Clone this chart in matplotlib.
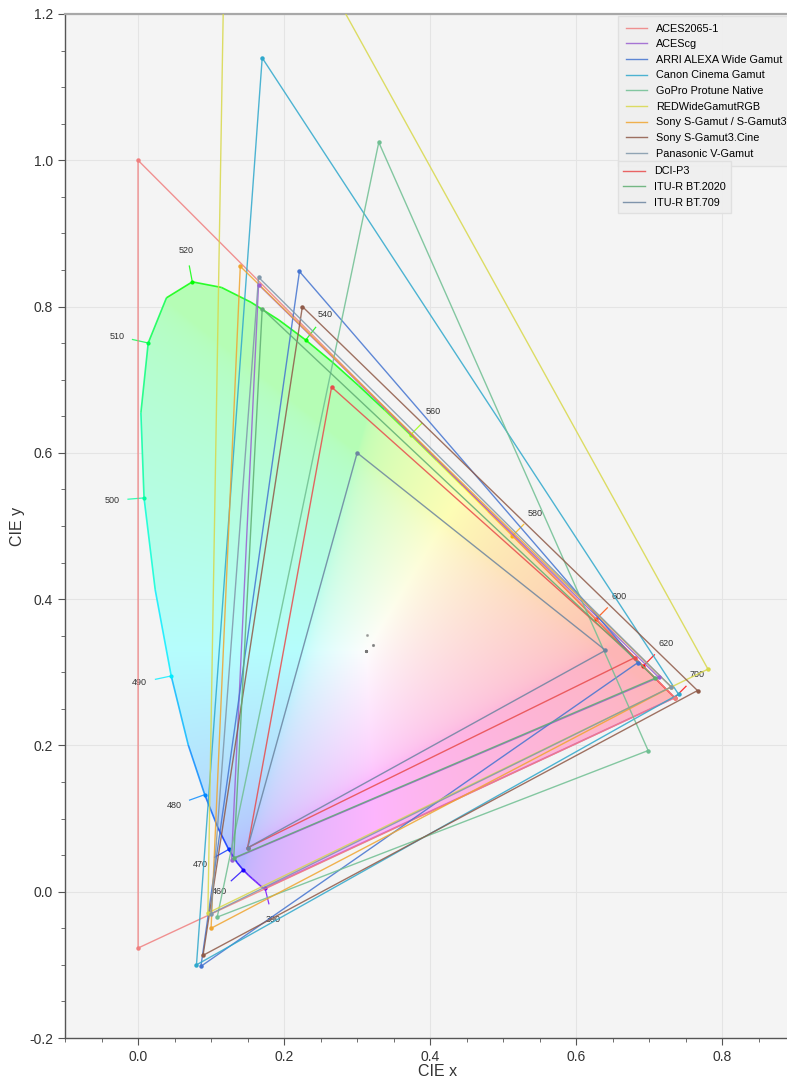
import numpy as np
import matplotlib
matplotlib.use("Agg")
import matplotlib.pyplot as plt
from matplotlib.collections import LineCollection
from matplotlib.patches import Polygon
from matplotlib.ticker import MultipleLocator, FormatStrFormatter

plt.rcParams['font.family'] = ['Liberation Sans', 'DejaVu Sans']

# CIE 1931 2 degree spectral locus, 5 nm steps
wavelengths = [380, 385, 390, 395, 400, 405, 410, 415, 420, 425, 430, 435, 440,
               445, 450, 455, 460, 465, 470, 475, 480, 485, 490, 495, 500, 505,
               510, 515, 520, 525, 530, 535, 540, 545, 550, 555, 560, 565, 570,
               575, 580, 585, 590, 595, 600, 605, 610, 615, 620, 625, 630, 635,
               640, 645, 650, 655, 660, 665, 670, 675, 680, 685, 690, 695, 700]
locus_x = [0.1741, 0.1740, 0.1738, 0.1736, 0.1733, 0.1730, 0.1726, 0.1721, 0.1714,
           0.1703, 0.1689, 0.1669, 0.1644, 0.1611, 0.1566, 0.1510, 0.1440, 0.1355,
           0.1241, 0.1096, 0.0913, 0.0687, 0.0454, 0.0235, 0.0082, 0.0039, 0.0139,
           0.0389, 0.0743, 0.1142, 0.1547, 0.1929, 0.2296, 0.2658, 0.3016, 0.3373,
           0.3731, 0.4087, 0.4441, 0.4788, 0.5125, 0.5448, 0.5752, 0.6029, 0.6270,
           0.6482, 0.6658, 0.6801, 0.6915, 0.7006, 0.7079, 0.7140, 0.7190, 0.7230,
           0.7260, 0.7283, 0.7300, 0.7311, 0.7320, 0.7327, 0.7334, 0.7340, 0.7344,
           0.7346, 0.7347]
locus_y = [0.0050, 0.0050, 0.0049, 0.0049, 0.0048, 0.0048, 0.0048, 0.0048, 0.0051,
           0.0058, 0.0069, 0.0086, 0.0109, 0.0138, 0.0177, 0.0227, 0.0297, 0.0399,
           0.0578, 0.0868, 0.1327, 0.2007, 0.2950, 0.4127, 0.5384, 0.6548, 0.7502,
           0.8120, 0.8338, 0.8262, 0.8059, 0.7816, 0.7543, 0.7243, 0.6923, 0.6589,
           0.6245, 0.5896, 0.5547, 0.5202, 0.4866, 0.4544, 0.4242, 0.3965, 0.3725,
           0.3514, 0.3340, 0.3197, 0.3083, 0.2993, 0.2920, 0.2859, 0.2809, 0.2770,
           0.2740, 0.2717, 0.2700, 0.2689, 0.2680, 0.2673, 0.2666, 0.2660, 0.2656,
           0.2654, 0.2653]
label_wavelengths = [390, 460, 470, 480, 490, 500, 510, 520, 540, 560, 580, 600, 620, 700]

# RGB colourspaces: primaries (R, G, B) and white point
space_names = ['ACES2065-1', 'ACEScg', 'ARRI ALEXA Wide Gamut', 'Canon Cinema Gamut',
               'GoPro Protune Native', 'REDWideGamutRGB', 'Sony S-Gamut / S-Gamut3',
               'Sony S-Gamut3.Cine', 'Panasonic V-Gamut', 'DCI-P3', 'ITU-R BT.2020',
               'ITU-R BT.709']
primaries_x = [[0.7347, 0.0000, 0.0001], [0.713, 0.165, 0.128], [0.684, 0.221, 0.0861],
               [0.740, 0.170, 0.080], [0.6984, 0.3296, 0.1084], [0.7803, 0.1216, 0.0956],
               [0.730, 0.140, 0.100], [0.766, 0.225, 0.089], [0.730, 0.165, 0.100],
               [0.680, 0.265, 0.150], [0.708, 0.170, 0.131], [0.640, 0.300, 0.150]]
primaries_y = [[0.2653, 1.0000, -0.0770], [0.293, 0.830, 0.044], [0.313, 0.848, -0.102],
               [0.270, 1.140, -0.100], [0.1930, 1.0246, -0.0347], [0.3043, 1.4940, -0.0291],
               [0.280, 0.855, -0.050], [0.275, 0.800, -0.087], [0.280, 0.840, -0.030],
               [0.320, 0.690, 0.060], [0.292, 0.797, 0.046], [0.330, 0.600, 0.060]]
whitepoint_x = [0.32168, 0.32168, 0.3127, 0.3127, 0.3127, 0.3127, 0.3127, 0.3127,
                0.3127, 0.314, 0.3127, 0.3127]
whitepoint_y = [0.33767, 0.33767, 0.3290, 0.3290, 0.3290, 0.3290, 0.3290, 0.3290,
                0.3290, 0.351, 0.3290, 0.3290]
space_colors = ['#f07f7f', '#9a5fd0', '#4474d0', '#2fa8cc', '#6fbf92', '#d8d84a',
                '#f0a530', '#8f5a48', '#7f97aa', '#e84c4c', '#5fae72', '#6c84a0']

BG = '#f4f4f4'


def xy_to_srgb(x, y):
    x = np.asarray(x, float)
    y = np.asarray(y, float)
    X = x / y
    Z = (1 - x - y) / y
    Y = np.ones_like(x)
    M = np.array([[3.2406, -1.5372, -0.4986],
                  [-0.9689, 1.8758, 0.0415],
                  [0.0557, -0.2040, 1.0570]])
    rgb = np.stack([X, Y, Z], axis=-1) @ M.T
    rgb = np.clip(rgb, 0, None)
    rgb = rgb / rgb.max(axis=-1, keepdims=True)
    rgb = np.where(rgb <= 0.0031308, 12.92 * rgb, 1.055 * rgb ** (1 / 2.4) - 0.055)
    return np.clip(rgb, 0, 1)


fig = plt.figure(figsize=(7.87, 10.79), dpi=100)
ax = fig.add_axes([65 / 787, 41 / 1079, 745 / 787, 1024 / 1079])
ax.set_facecolor(BG)
ax.set_xlim(-0.1, 0.92)
ax.set_ylim(-0.2, 1.2)

# filled chromaticity diagram
lx = np.array(locus_x)
ly = np.array(locus_y)
gx, gy = np.meshgrid(np.linspace(0.0, 0.75, 500), np.linspace(0.001, 0.85, 560))
img = xy_to_srgb(gx, gy)
alpha = 0.28
img = alpha * img + (1 - alpha) * 0.99
im = ax.imshow(img, origin='lower', extent=(0.0, 0.75, 0.001, 0.85),
               interpolation='bilinear', aspect='auto', zorder=1)
clip = Polygon(np.column_stack([lx, ly]), closed=True, transform=ax.transData)
im.set_clip_path(clip)

# spectral locus, coloured by wavelength
pts = np.column_stack([lx, ly])
seg_cols = xy_to_srgb(lx, ly)
segs = np.stack([pts[:-1], pts[1:]], axis=1)
lc = LineCollection(segs, colors=seg_cols[:-1], linewidths=1.2, alpha=0.8, zorder=2)
ax.add_collection(lc)
ax.plot([lx[0], lx[-1]], [ly[0], ly[-1]], color='#d050c8', lw=1.2, alpha=0.8, zorder=2)

# wavelength labels
centre = np.array([0.3333, 0.3333])
for wl in label_wavelengths:
    i = wavelengths.index(wl)
    i0, i1 = max(i - 1, 0), min(i + 1, len(wavelengths) - 1)
    t = pts[i1] - pts[i0]
    t = t / np.hypot(*t)
    n = np.array([t[1], -t[0]])
    if np.dot(n, pts[i] - centre) < 0:
        n = -n
    col = seg_cols[i]
    ax.plot([pts[i][0], pts[i][0] + n[0] * 0.022], [pts[i][1], pts[i][1] + n[1] * 0.022],
            color=col, lw=0.9, alpha=0.8, zorder=3)
    ax.plot(pts[i][0], pts[i][1], 'o', ms=2.0, color=col, zorder=3)
    ax.text(pts[i][0] + n[0] * 0.044, pts[i][1] + n[1] * 0.044, str(wl),
            fontsize=6.5, color='#333333', ha='center', va='center', zorder=3)

# colourspace triangles
handles = []
for name, px, py, wx, wy, c in zip(space_names, primaries_x, primaries_y,
                                   whitepoint_x, whitepoint_y, space_colors):
    h, = ax.plot(px + px[:1], py + py[:1], color=c, lw=1.0, alpha=0.85,
                 label=name, zorder=4)
    ax.plot(px, py, 'o', ms=2.2, color=c, zorder=5)
    ax.plot(wx, wy, 'o', ms=1.2, color='#777777', alpha=0.5, zorder=5)
    handles.append(h)

ax.grid(True, color='#e4e4e4', lw=0.8, zorder=0)
ax.set_axisbelow(True)
ax.xaxis.set_major_locator(MultipleLocator(0.2))
ax.xaxis.set_minor_locator(MultipleLocator(0.05))
ax.yaxis.set_major_locator(MultipleLocator(0.2))
ax.yaxis.set_minor_locator(MultipleLocator(0.05))
ax.tick_params(which='both', direction='out', color='#555555', labelcolor='#333333',
               labelsize=10)
ax.tick_params(which='major', length=5)
ax.tick_params(which='minor', length=3)
ax.xaxis.set_major_formatter(FormatStrFormatter('%.1f'))
ax.yaxis.set_major_formatter(FormatStrFormatter('%.1f'))
for s in ['left', 'bottom']:
    ax.spines[s].set_color('#555555')
    ax.spines[s].set_linewidth(1.0)
ax.spines['top'].set_color('#a8a8a8')
ax.spines['top'].set_linewidth(1.6)
ax.spines['right'].set_visible(False)
ax.set_xlabel('CIE x', fontsize=11.5, color='#333333', labelpad=0)
ax.set_ylabel('CIE y', fontsize=11.5, color='#333333', labelpad=3)

leg_kw = dict(loc='upper left', fontsize=7.8, frameon=True, facecolor='#efefef',
              edgecolor='#e0e0e0', framealpha=0.95, borderaxespad=0, borderpad=0.7,
              labelspacing=0.52, handlelength=2.0, handletextpad=0.8, fancybox=False)
leg1 = ax.legend(handles=handles[:9], bbox_to_anchor=(553 / 745, 1022 / 1024), **leg_kw)
leg1.set_zorder(10)
ax.add_artist(leg1)
leg2 = ax.legend(handles=handles[9:], bbox_to_anchor=(553 / 745, 877 / 1024),
                 **dict(leg_kw, borderpad=0.5))
leg2.set_zorder(10)

fig.savefig('out.png', dpi=100)
